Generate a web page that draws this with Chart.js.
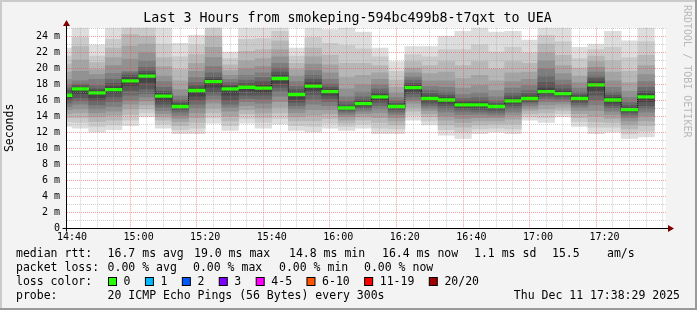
<!DOCTYPE html>
<html><head><meta charset="utf-8">
<script src="https://cdn.jsdelivr.net/npm/chart.js@4/dist/chart.umd.min.js"></script>
<style>html,body{margin:0;padding:0;background:#f3f3f3;}canvas{display:block}</style>
</head><body>
<canvas id="c" width="697" height="310"></canvas>
<script>
// ---- data ----
const TITLE = 'Last 3 Hours from smokeping-594bc499b8-t7qxt to UEA';
// end time of each 5-minute step (HH:MM)
const stepEnds = ['14:40','14:45','14:50','14:55','15:00','15:05','15:10','15:15','15:20','15:25','15:30','15:35',
  '15:40','15:45','15:50','15:55','16:00','16:05','16:10','16:15','16:20','16:25','16:30','16:35',
  '16:40','16:45','16:50','16:55','17:00','17:05','17:10','17:15','17:20','17:25','17:30','17:35'];
// median rtt per step (ms)
const medianRtt = [16.6,17.4,16.9,17.3,18.4,19.0,16.5,15.2,17.2,18.3,17.4,17.6,17.5,18.7,16.7,17.75,17.05,15.0,
  15.55,16.4,15.2,17.55,16.2,16.0,15.4,15.4,15.2,15.9,16.2,17.05,16.8,16.2,17.9,16.0,14.8,16.4];
// k-th smallest of the 20 pings per step (ms)
const ping01 = [12.7,12.5,12.0,12.3,12.8,13.9,12.5,11.8,11.8,13.1,12.2,13.1,12.5,13.0,12.2,12.0,12.5,12.2,12.5,11.8,11.8,13.5,12.9,11.6,11.2,11.8,12.0,11.8,13.5,13.2,13.9,12.7,11.8,12.0,11.2,11.4];
const ping02 = [13.3,13.2,12.7,12.9,13.5,14.4,13.0,12.3,12.5,13.8,12.8,13.7,13.2,13.7,12.8,12.7,13.1,12.7,13.0,12.5,12.4,14.1,13.4,12.3,11.9,12.4,12.5,12.4,13.9,13.8,14.3,13.3,12.6,12.6,11.8,12.1];
const ping03 = [13.8,13.8,13.3,13.5,14.2,14.9,13.5,12.8,13.2,14.4,13.4,14.3,13.8,14.4,13.4,13.4,13.7,13.1,13.5,13.2,12.9,14.6,13.9,12.9,12.6,12.9,13.0,13.0,14.3,14.4,14.7,13.8,13.3,13.2,12.4,12.8];
const ping04 = [14.3,14.4,13.9,14.1,14.9,15.4,13.9,13.3,13.8,15.0,14.0,14.8,14.4,15.1,13.9,14.1,14.3,13.5,13.9,13.8,13.4,15.1,14.3,13.5,13.2,13.4,13.4,13.6,14.7,14.9,15.1,14.3,14.0,13.7,12.9,13.4];
const ping05 = [14.8,14.9,14.4,14.6,15.5,15.9,14.3,13.7,14.4,15.6,14.6,15.3,15.0,15.8,14.4,14.8,14.8,13.9,14.3,14.4,13.8,15.6,14.7,14.0,13.7,13.8,13.8,14.1,15.0,15.4,15.5,14.7,14.7,14.2,13.4,14.0];
const ping06 = [15.2,15.5,14.9,15.2,16.0,16.4,14.7,14.1,15.0,16.1,15.1,15.8,15.6,16.5,14.9,15.5,15.3,14.2,14.6,14.9,14.2,16.0,15.0,14.5,14.2,14.2,14.1,14.5,15.3,15.8,15.8,15.1,15.4,14.6,13.8,14.5];
const ping07 = [15.6,15.9,15.4,15.8,16.6,16.8,15.1,14.5,15.5,16.6,15.5,16.2,16.1,17.1,15.3,16.1,15.8,14.5,14.9,15.3,14.5,16.4,15.3,14.9,14.6,14.5,14.4,14.9,15.6,16.2,16.1,15.4,16.0,15.0,14.1,14.9];
const ping08 = [16.0,16.3,15.9,16.4,17.2,17.4,15.5,14.8,16.0,17.0,16.0,16.6,16.6,17.6,15.7,16.7,16.2,14.7,15.1,15.7,14.8,16.8,15.6,15.3,14.9,14.8,14.7,15.3,15.8,16.5,16.4,15.7,16.6,15.3,14.4,15.3];
const ping09 = [16.3,16.8,16.3,16.9,17.8,18.2,15.9,15.0,16.5,17.6,16.6,17.1,17.0,18.1,16.1,17.2,16.6,14.85,15.3,16.0,15.0,17.1,15.9,15.6,15.1,15.1,14.95,15.6,16.0,16.8,16.6,15.9,17.2,15.6,14.6,15.8];
const ping10 = [16.5,17.3,16.8,17.2,18.3,18.9,16.4,15.2,17.1,18.2,17.3,17.5,17.4,18.6,16.6,17.6,17.0,14.95,15.5,16.3,15.15,17.5,16.1,15.9,15.3,15.3,15.15,15.8,16.1,17.0,16.75,16.1,17.8,15.9,14.75,16.3];
const ping11 = [16.7,17.5,17.0,17.4,18.5,19.1,16.6,15.3,17.3,18.4,17.5,17.7,17.6,18.8,16.8,17.9,17.1,15.05,15.6,16.5,15.25,17.6,16.3,16.1,15.5,15.5,15.25,16.0,16.3,17.1,16.85,16.3,18.0,16.1,14.85,16.5];
const ping12 = [16.9,17.6,17.2,17.7,18.8,19.3,16.8,15.5,17.5,18.6,17.7,17.9,17.9,19.1,17.0,18.2,17.3,15.2,15.8,16.7,15.4,17.8,16.5,16.3,15.7,15.7,15.4,16.2,16.5,17.5,17.1,16.5,18.3,16.3,15.0,16.8];
const ping13 = [17.2,17.8,17.4,18.1,19.1,19.6,17.1,15.7,17.8,18.9,17.9,18.1,18.3,19.5,17.3,18.6,17.6,15.4,16.0,17.0,15.6,18.1,16.8,16.6,15.9,15.9,15.6,16.5,16.8,18.2,17.4,16.7,18.7,16.6,15.3,17.1];
const ping14 = [17.5,18.0,17.8,18.6,19.4,20.1,17.6,16.0,18.2,19.4,18.2,18.5,18.8,20.0,17.7,19.1,18.0,15.8,16.4,17.4,15.9,18.5,17.2,17.0,16.2,16.3,15.9,16.9,17.2,19.0,17.9,17.0,19.0,17.0,15.7,17.6];
const ping15 = [17.9,18.4,18.6,19.3,19.6,20.9,18.3,16.5,18.8,20.2,18.6,19.1,19.4,20.6,18.3,19.7,18.6,16.4,17.0,17.9,16.3,18.9,17.7,17.6,16.7,16.9,16.4,17.5,17.8,19.9,18.5,17.5,19.5,17.6,16.3,18.3];
const ping16 = [18.6,19.6,19.2,20.3,21.1,21.9,19.0,17.3,19.6,21.3,19.1,19.9,20.2,21.4,19.0,20.5,19.4,17.4,17.9,18.6,16.9,19.4,18.4,18.4,17.5,17.8,17.2,18.3,18.6,20.9,19.3,18.2,20.1,18.4,17.1,19.2];
const ping17 = [19.5,21.0,19.8,21.3,22.75,23.0,20.2,18.4,20.6,22.6,19.7,20.9,21.2,22.3,19.8,21.4,20.4,18.8,19.1,19.4,17.6,20.0,19.3,19.5,18.7,19.1,18.4,19.4,19.5,21.9,20.3,19.0,20.8,19.5,18.2,20.3];
const ping18 = [20.5,22.7,20.7,22.5,24.2,24.0,21.3,19.8,21.7,24.0,20.4,22.1,22.3,23.4,20.6,22.5,21.6,20.6,20.6,20.3,18.5,20.8,20.3,20.8,20.3,20.8,19.9,20.8,20.6,23.0,21.6,20.0,21.5,20.9,19.6,21.6];
const ping19 = [21.5,23.8,21.5,23.6,25.6,25.4,23.0,21.4,22.9,25.4,21.2,23.6,23.7,24.6,21.5,23.8,23.1,22.8,22.4,21.4,19.6,21.7,21.4,22.3,22.3,22.9,22.0,22.6,21.9,24.1,23.3,21.2,22.3,22.6,21.3,23.3];
const ping20 = [22.5,25.6,22.9,25.4,26.8,26.5,25.4,23.1,24.1,26.8,22.0,25.4,25.3,25.8,22.5,25.4,24.8,25.3,24.5,22.5,20.8,22.7,22.7,24.0,24.6,25.3,24.5,24.6,23.5,25.3,25.3,22.6,23.0,24.6,23.4,25.3];
// axis labels
const xTickLabels = ['14:40','15:00','15:20','15:40','16:00','16:20','16:40','17:00','17:20'];
const yLabelEvery = 2; // ms
const Y_MAX = 25.05;
const RANGE_START = '14:38:29', RANGE_END = '17:38:29';
// legend texts
const rttStats = ['16.7 ms avg','19.0 ms max','14.8 ms min','16.4 ms now','1.1 ms sd','15.5','am/s'];
const rttStatsX = [107.6, 194, 289, 382, 474, 552, 607];
const lossStats = ['0.00 % avg','0.00 % max','0.00 % min','0.00 % now'];
const lossStatsX = [107.6, 193, 279, 364];
const lossLabels = ['0','1','2','3','4-5','6-10','11-19','20/20'];
const lossColors = ['#26ff00','#00b8ff','#0059ff','#7e00ff','#ff00ff','#ff5500','#ff0000','#a10000'];
const probeText = '20 ICMP Echo Pings (56 Bytes) every 300s';
const stampText = 'Thu Dec 11 17:38:29 2025';

// ---- helpers ----
const toMin = s => { const p = s.split(':').map(Number); return (p[0]-14)*60 + p[1] + (p[2]||0)/60; };
const X_MIN = toMin(RANGE_START), X_MAX = toMin(RANGE_END);
const centers = stepEnds.map(s => toMin(s) - 2.5);
const pings = [ping01,ping02,ping03,ping04,ping05,ping06,ping07,ping08,ping09,ping10,
               ping11,ping12,ping13,ping14,ping15,ping16,ping17,ping18,ping19,ping20];
const MONO = '"DejaVu Sans Mono", monospace';

const datasets = [];
datasets.push({type:'bar', order:0, backgroundColor:lossColors[0],
  data: centers.map((x,i)=>({x, y:[medianRtt[i]-0.17, medianRtt[i]+0.17]}))});
datasets.push({type:'line', order:1, borderColor:'#111', borderWidth:1, borderDash:[1,1], pointRadius:0,
  stepped:'middle', data: centers.map((x,i)=>({x, y:medianRtt[i]}))});
for (let p = 1; p <= 10; p++) {
  const g = Math.floor(190/10*(10-p)) + 50;
  const lo = pings[p-1], hi = pings[20-p];
  datasets.push({type:'bar', order: 12 - p, backgroundColor:`rgb(${g},${g},${g})`,
    data: centers.map((x,i)=>({x, y:[lo[i], hi[i]]}))});
}

const xMinor = []; for (let m = Math.ceil(X_MIN/5)*5; m <= X_MAX; m += 5) xMinor.push(m);
const xMajor = xTickLabels.map(s => toMin(s));
const yTicks = []; for (let v = 0; v <= Math.floor(Y_MAX); v++) yTicks.push(v);
const isMajorX = v => xMajor.some(m => Math.abs(m - v) < 0.01);
const MAJ = 'rgba(235,70,70,0.5)', MIN = 'rgba(150,150,150,0.45)';

const frame = {
  id:'frame',
  beforeDraw(chart){
    const {ctx, chartArea:a} = chart;
    ctx.save();
    ctx.fillStyle = '#f3f3f3'; ctx.fillRect(0,0,chart.width,chart.height);
    ctx.fillStyle = '#ffffff'; ctx.fillRect(a.left, a.top, a.right-a.left, a.bottom-a.top);
    ctx.restore();
  },
  afterDraw(chart){
    const {ctx, chartArea:a, width:W, height:H} = chart;
    ctx.save();
    // 3D border
    ctx.fillStyle = '#cbcbcb'; ctx.fillRect(0,0,W,2); ctx.fillRect(0,0,2,H);
    ctx.fillStyle = '#999999'; ctx.fillRect(0,H-2,W,2); ctx.fillRect(W-2,0,2,H);
    // title
    ctx.fillStyle = '#000'; ctx.font = '13.3px ' + MONO; ctx.textAlign = 'center'; ctx.textBaseline = 'middle';
    ctx.fillText(TITLE, 347.5, 19);
    // axes
    const x0 = Math.round(a.left) - 0.5, y0 = Math.round(a.bottom) + 0.5;
    ctx.strokeStyle = '#000'; ctx.lineWidth = 1;
    ctx.beginPath(); ctx.moveTo(x0, y0 + 3); ctx.lineTo(x0, 25); ctx.stroke();
    ctx.beginPath(); ctx.moveTo(x0 - 4, y0); ctx.lineTo(a.right + 2, y0); ctx.stroke();
    ctx.fillStyle = '#7f0000';
    ctx.beginPath(); ctx.moveTo(x0, 20); ctx.lineTo(x0-3.5, 26); ctx.lineTo(x0+3.5, 26); ctx.closePath(); ctx.fill();
    ctx.beginPath(); ctx.moveTo(a.right+8, y0); ctx.lineTo(a.right+2, y0-3.5); ctx.lineTo(a.right+2, y0+3.5); ctx.closePath(); ctx.fill();
    // y title
    ctx.fillStyle = '#000'; ctx.font = '11.5px ' + MONO; ctx.textAlign = 'center'; ctx.textBaseline = 'middle';
    ctx.save(); ctx.translate(10.5, (a.top + a.bottom)/2); ctx.rotate(-Math.PI/2); ctx.fillText('Seconds', 0, 0); ctx.restore();
    // watermark
    ctx.save(); ctx.fillStyle = '#b8b8b8'; ctx.font = '10px ' + MONO; ctx.textAlign = 'left';
    ctx.translate(687, 5); ctx.rotate(Math.PI/2); ctx.fillText('RRDTOOL / TOBI OETIKER', 0, 0); ctx.restore();
    // legend
    ctx.font = '11.5px ' + MONO; ctx.textAlign = 'left'; ctx.textBaseline = 'middle'; ctx.fillStyle = '#000';
    const cw = ctx.measureText('0').width;
    const L = 16, V = 107.6;
    ctx.fillText('median rtt:', L, 254.5);
    rttStats.forEach((t,i) => ctx.fillText(t, rttStatsX[i], 254.5));
    ctx.fillText('packet loss:', L, 268.5);
    lossStats.forEach((t,i) => ctx.fillText(t, lossStatsX[i], 268.5));
    ctx.fillText('loss color:', L, 282.5);
    let x = 108;
    lossLabels.forEach((lab, i) => {
      ctx.fillStyle = lossColors[i]; ctx.fillRect(x+0.5, 277.5, 8, 8);
      ctx.strokeStyle = '#000'; ctx.strokeRect(x+0.5, 277.5, 8, 8);
      ctx.fillStyle = '#000'; ctx.fillText(lab, x + 15.6, 282.5);
      x += 15.6 + lab.length * cw + 14.4;
    });
    ctx.fillText('probe:', L, 296.5);
    ctx.fillText(probeText, V, 296.5);
    ctx.textAlign = 'right'; ctx.fillText(stampText, 680, 296.5);
    ctx.restore();
  }
};

new Chart(document.getElementById('c'), {
  data: { datasets },
  options: {
    responsive:false, animation:false, devicePixelRatio:1,
    layout:{padding:{left:0, right:31, top:27.7, bottom:0}},
    datasets:{bar:{grouped:false, barPercentage:1, categoryPercentage:1, borderWidth:0}},
    plugins:{ legend:{display:false}, tooltip:{enabled:false}, title:{display:false} },
    scales:{
      x:{type:'linear', min:X_MIN, max:X_MAX, offset:false,
        afterFit:s=>{ s.height = 82; },
        afterBuildTicks:s=>{ s.ticks = xMinor.map(v=>({value:v})); },
        ticks:{autoSkip:false, maxRotation:0, padding:3, color:'#000', font:{family:MONO, size:10},
          callback:(v)=>{ const i = xMajor.findIndex(m=>Math.abs(m-v)<0.01); return i>=0 ? xTickLabels[i] : ''; }},
        grid:{z:1, drawTicks:false, lineWidth:1, color:c=> (c.tick && isMajorX(c.tick.value)) ? MAJ : MIN},
        border:{display:false, dash:[1,1]}
      },
      y:{type:'linear', min:0, max:Y_MAX,
        afterFit:s=>{ s.width = 67; },
        afterBuildTicks:s=>{ s.ticks = yTicks.map(v=>({value:v})); },
        ticks:{autoSkip:false, padding:7, color:'#000', font:{family:MONO, size:10},
          callback:(v)=> v % yLabelEvery ? '' : (v === 0 ? '0' : v + ' m')},
        grid:{z:1, drawTicks:false, lineWidth:1, color:c=> (c.tick && c.tick.value % yLabelEvery === 0) ? MAJ : MIN},
        border:{display:false, dash:[1,1]}
      }
    }
  },
  plugins:[frame]
});
</script>
</body></html>
